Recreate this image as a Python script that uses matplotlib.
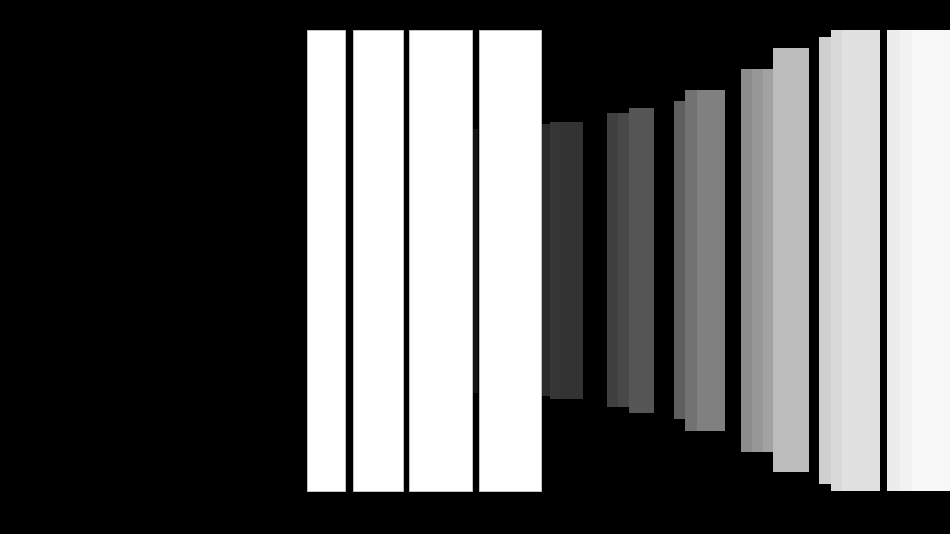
import matplotlib
matplotlib.use("Agg")
import matplotlib.pyplot as plt

seg_left = [307, 353, 409.3, 478.7, 472.5,
            541.7, 550, 560,
            606.7, 618, 629,
            674, 685, 697,
            741, 751.7, 763.3, 773.3,
            818.7, 830.7, 841.7,
            887.3, 900, 911.7]
seg_right = [345, 402.7, 472, 540.7, 478,
             550, 560, 583.3,
             618, 629, 654.3,
             685, 697, 725,
             751.7, 763.3, 773.3, 809,
             830.7, 841.7, 880,
             900, 911.7, 950]
seg_top = [29.5, 29.5, 29.5, 29.5, 129,
           124, 122.3, 122.3,
           112.7, 112.7, 108.3,
           101.3, 89.7, 89.7,
           68.5, 68.5, 68.5, 48,
           36.7, 29.7, 29.7,
           29.7, 29.7, 29.7]
seg_bottom = [490.7, 490.7, 490.7, 490.7, 393,
              396, 399, 399,
              407.3, 407.3, 412.7,
              419, 431, 431,
              451.7, 451.7, 451.7, 472.3,
              484, 490.7, 490.7,
              490.7, 490.7, 490.7]
seg_gray = [255, 255, 255, 255, 20,
            44, 54, 51,
            64, 72, 85,
            95, 114, 128,
            140, 151, 162, 188,
            208, 217, 225,
            236, 242, 248]

fig = plt.figure(figsize=(9.5, 5.34), dpi=100, facecolor="black")
ax = fig.add_axes([0, 0, 1, 1])
ax.set_facecolor("black")

widths = [r - l for l, r in zip(seg_left, seg_right)]
heights = [b - t for t, b in zip(seg_top, seg_bottom)]
colors = ["#%02x%02x%02x" % (g, g, g) for g in seg_gray]
edges = ["#cfcfcf" if g == 255 else "none" for g in seg_gray]

ax.bar(seg_left, heights, width=widths, bottom=seg_top, align="edge",
       color=colors, edgecolor=edges, linewidth=0.6)

ax.set_xlim(0, 950)
ax.set_ylim(534, 0)
ax.axis("off")

fig.savefig("out.png", dpi=100, facecolor="black")
